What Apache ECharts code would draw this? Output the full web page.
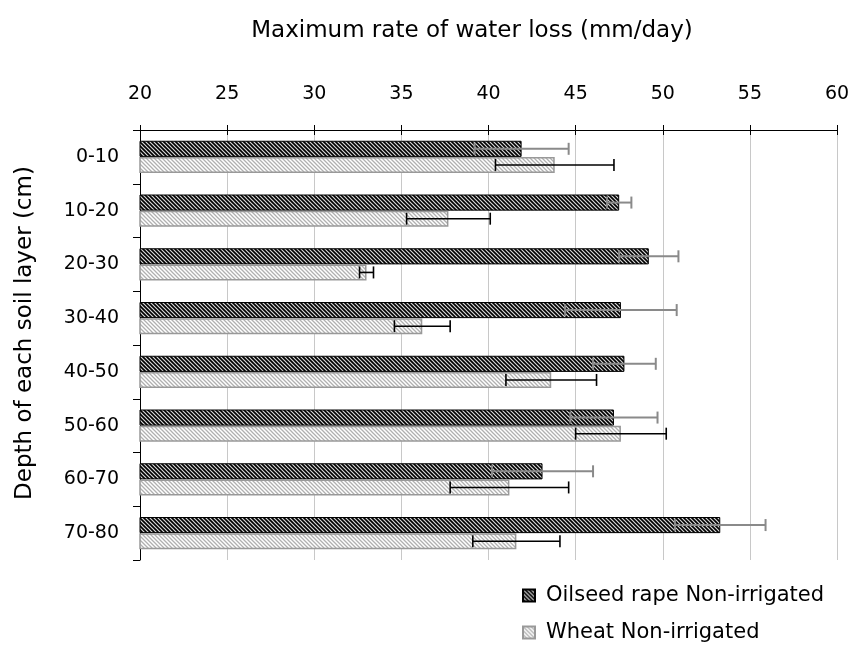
<!DOCTYPE html>
<html>
<head>
<meta charset="utf-8">
<script src="https://cdn.jsdelivr.net/npm/echarts@6/dist/echarts.min.js"></script>
<style>html,body{margin:0;padding:0;background:#fff}#c{width:853px;height:645px}</style>
</head>
<body>
<div id="c"></div>
<script>
var categories = ['0-10','10-20','20-30','30-40','40-50','50-60','60-70','70-80'];
var oilseed = [41.9, 47.5, 49.2, 47.6, 47.8, 47.2, 43.1, 53.3];
var oilseedErr = [2.7, 0.7, 1.7, 3.2, 1.8, 2.5, 2.9, 2.6];
var wheat = [43.8, 37.7, 33.0, 36.2, 43.6, 47.6, 41.2, 41.6];
var wheatErr = [3.4, 2.4, 0.4, 1.6, 2.6, 2.6, 3.4, 2.5];
var xTicks = [20, 25, 30, 35, 40, 45, 50, 55, 60];
var seriesNames = ['Oilseed rape Non-irrigated', 'Wheat Non-irrigated'];

function makePattern(bg, fg, lw) {
  var c = document.createElement('canvas');
  c.width = 4; c.height = 4;
  var g = c.getContext('2d');
  g.fillStyle = bg; g.fillRect(0, 0, 4, 4);
  g.strokeStyle = fg; g.lineWidth = lw;
  g.beginPath();
  g.moveTo(-1, -1); g.lineTo(5, 5);
  g.moveTo(-1, 3); g.lineTo(1, 5);
  g.moveTo(3, -1); g.lineTo(5, 1);
  g.stroke();
  return { image: c, repeat: 'repeat' };
}
var darkPat = makePattern('#000', '#d8d8d8', 1.2);
var lightPat = makePattern('#fff', '#b0b0b0', 1.3);

var FONT = '"DejaVu Sans", "Liberation Sans", Arial, sans-serif';

function errSeries(means, errs, sign, color, lw) {
  return {
    type: 'custom',
    xAxisIndex: 0, yAxisIndex: 0,
    z: 10,
    silent: true,
    data: categories.map(function (c, i) { return [i, means[i], errs[i]]; }),
    encode: { x: 1, y: 0 },
    renderItem: function (params, api) {
      var i = api.value(0), m = api.value(1), e = api.value(2);
      var band = api.size([0, 1])[1];
      var off = sign * band * 0.15;
      var p1 = api.coord([m - e, i]);
      var p2 = api.coord([m + e, i]);
      var y = p1[1] + off;
      var h = 6;
      var st = { stroke: color, lineWidth: lw };
      return {
        type: 'group',
        children: [
          { type: 'line', shape: { x1: p1[0], y1: y, x2: p2[0], y2: y }, style: st },
          { type: 'line', shape: { x1: p1[0], y1: y - h, x2: p1[0], y2: y + h }, style: st },
          { type: 'line', shape: { x1: p2[0], y1: y - h, x2: p2[0], y2: y + h }, style: st }
        ]
      };
    }
  };
}

var chart = echarts.init(document.getElementById('c'), null, { renderer: 'canvas' });
chart.setOption({
  animation: false,
  backgroundColor: '#fff',
  textStyle: { fontFamily: FONT },
  grid: { left: 140, right: 16, top: 130, bottom: 85 },
  graphic: [
    { type: 'text', x: 472, y: 31,
      style: { text: 'Maximum rate of water loss (mm/day)', font: '23px ' + FONT, fill: '#000', textAlign: 'center', textVerticalAlign: 'middle' } },
    { type: 'text', x: 25, y: 333, rotation: Math.PI / 2,
      style: { text: 'Depth of each soil layer (cm)', font: '23px ' + FONT, fill: '#000', textAlign: 'center', textVerticalAlign: 'middle' } }
  ],
  legend: {
    orient: 'vertical',
    left: 522, top: 585,
    padding: 0,
    itemWidth: 12, itemHeight: 12,
    itemGap: 16,
    icon: 'rect',
    textStyle: { fontSize: 21, color: '#000', fontFamily: FONT, padding: [0, 0, 0, 6] },
    data: seriesNames
  },
  xAxis: [{
    type: 'value', position: 'top', min: xTicks[0], max: xTicks[xTicks.length - 1], interval: 5,
    axisLine: { show: true, lineStyle: { color: '#000', width: 1 } },
    axisTick: { show: true, length: 5, lineStyle: { color: '#000' } },
    axisLabel: { fontSize: 19, color: '#000', margin: 26, fontFamily: FONT },
    splitLine: { show: true, lineStyle: { color: '#c8c8c8', width: 1 } }
  }, {
    type: 'value', position: 'top', min: xTicks[0], max: xTicks[xTicks.length - 1], interval: 5,
    axisLine: { show: false },
    axisTick: { show: true, inside: true, length: 5, lineStyle: { color: '#000' } },
    axisLabel: { show: false },
    splitLine: { show: false }
  }],
  yAxis: {
    type: 'category', inverse: true, data: categories,
    axisLine: { show: true, lineStyle: { color: '#000', width: 1 } },
    axisTick: { show: true, length: 7, lineStyle: { color: '#000' } },
    axisLabel: { fontSize: 19, color: '#000', margin: 21, fontFamily: FONT }
  },
  series: [
    { name: seriesNames[0], type: 'bar', xAxisIndex: 0, data: oilseed,
      barGap: '0%', barCategoryGap: '40%',
      itemStyle: { color: darkPat, borderColor: '#000', borderWidth: 1 } },
    { name: seriesNames[1], type: 'bar', xAxisIndex: 0, data: wheat,
      barGap: '0%', barCategoryGap: '40%',
      itemStyle: { color: lightPat, borderColor: '#999', borderWidth: 1.5 } },
    errSeries(oilseed, oilseedErr, -1, '#8a8a8a', 2),
    errSeries(wheat, wheatErr, 1, '#000', 1.6)
  ]
});
</script>
</body>
</html>
